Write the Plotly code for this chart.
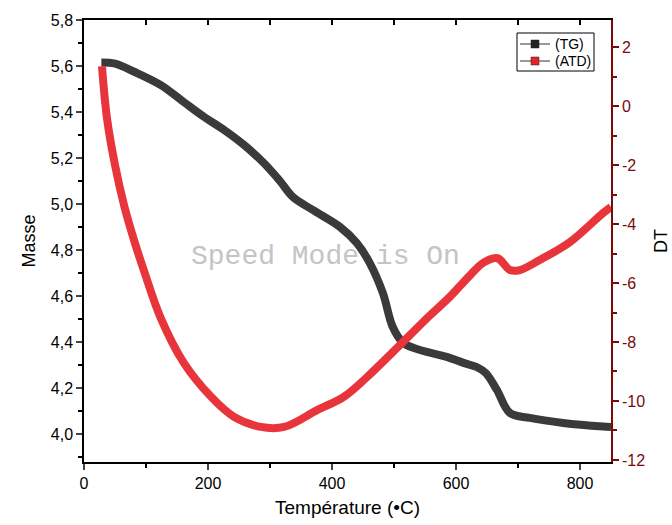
import plotly.graph_objects as go

# TG data (left axis, Masse)
tg_temp = [28, 50, 81, 124, 161, 194, 226, 258, 290, 316, 337, 369, 413, 440, 461, 482, 498, 515, 542, 585, 611, 634, 648, 666, 687, 719, 773, 837, 850]
tg_mass = [5.615, 5.61, 5.575, 5.517, 5.443, 5.378, 5.322, 5.257, 5.178, 5.10, 5.03, 4.974, 4.90, 4.83, 4.743, 4.613, 4.465, 4.396, 4.365, 4.335, 4.31, 4.29, 4.265, 4.191, 4.091, 4.07, 4.048, 4.032, 4.03]

# ATD data (right axis, DT)
atd_temp = [29, 37, 50, 65, 80, 97, 124, 161, 205, 242, 285, 323, 376, 419, 456, 505, 558, 590, 623, 645, 667, 687, 703, 735, 784, 837, 850]
atd_dt = [1.35, -0.4, -2.0, -3.4, -4.5, -5.6, -7.2, -8.71, -9.86, -10.54, -10.88, -10.88, -10.31, -9.86, -9.2, -8.2, -7.1, -6.47, -5.73, -5.3, -5.16, -5.56, -5.56, -5.22, -4.61, -3.63, -3.42]

series_names = ["(TG)", "(ATD)"]
x_ticks = [0, 200, 400, 600, 800]
left_ticks = [4.0, 4.2, 4.4, 4.6, 4.8, 5.0, 5.2, 5.4, 5.6, 5.8]
left_labels = [f"{v:.1f}".replace(".", ",") for v in left_ticks]
right_ticks = [-12, -10, -8, -6, -4, -2, 0, 2]
right_labels = [str(v) for v in right_ticks]

BLACK = "#3a3a3a"
RED = "#e8353b"
DARKRED = "#7b0a0a"
FONT = "Liberation Sans, Arial, sans-serif"

fig = go.Figure()
fig.add_trace(go.Scatter(x=tg_temp, y=tg_mass, mode="lines", name=series_names[0],
                         line=dict(color=BLACK, width=8, shape="spline"), showlegend=False, yaxis="y"))
fig.add_trace(go.Scatter(x=atd_temp, y=atd_dt, mode="lines", name=series_names[1],
                         line=dict(color=RED, width=8, shape="spline"), showlegend=False, yaxis="y2"))
# invisible trace for top axis
fig.add_trace(go.Scatter(x=[0], y=[5], xaxis="x2", yaxis="y", mode="markers",
                         marker=dict(opacity=0), showlegend=False, hoverinfo="skip"))

fig.update_layout(
    width=672, height=525,
    margin=dict(l=84, r=61, t=20, b=63, autoexpand=False),
    paper_bgcolor="white", plot_bgcolor="white",
    font=dict(family=FONT, size=16, color="black"),
    xaxis=dict(range=[0, 850], tickvals=x_ticks, ticks="outside", ticklen=6, tickwidth=1.5, automargin=False,
               showline=True, linecolor="black", linewidth=1.5, showgrid=False, zeroline=False,
               minor=dict(dtick=100, tick0=0, ticks="outside", ticklen=4, tickcolor="black", tickwidth=1.5),
               title=dict(text="Température (•C)", font=dict(size=19), standoff=10),
               tickfont=dict(size=16)),
    xaxis2=dict(range=[0, 850], overlaying="x", side="top", anchor="y", dtick=100, tick0=0, automargin=False,
                ticks="inside", ticklen=5, tickwidth=1.5, tickcolor="black", showticklabels=False,
                showline=True, linecolor="black", linewidth=1.5, showgrid=False, zeroline=False),
    yaxis=dict(range=[3.878, 5.8], tickvals=left_ticks, ticktext=left_labels, ticks="outside", ticklen=6,
               tickwidth=1.5, showline=True, linecolor="black", linewidth=1.5, showgrid=False, zeroline=False,
               automargin=False,
               minor=dict(dtick=0.1, tick0=0, ticks="outside", ticklen=4, tickcolor="black", tickwidth=1.5),
               title=dict(text="Masse", font=dict(size=18), standoff=10),
               tickfont=dict(size=16)),
    yaxis2=dict(range=[-12.07, 2.92], overlaying="y", side="right", anchor="x", tickvals=right_ticks,
                ticktext=right_labels,
                ticks="outside", ticklen=6, tickwidth=1.5, tickcolor=DARKRED, automargin=False,
                showline=True, linecolor=DARKRED, linewidth=1.5, showgrid=False, zeroline=False,
                minor=dict(dtick=2, tick0=-11, ticks="outside", ticklen=4, tickcolor=DARKRED, tickwidth=1.5),
                tickfont=dict(size=16, color=DARKRED),
                title=dict(text="DT", font=dict(size=18, color="black"), standoff=10)),
    showlegend=False,
)

# Manual legend box (Origin style)
W, H, L, T = 527.0, 442.0, 84.0, 20.0
def px(xp):
    return (xp - L) / W
def py(yp):
    return 1 - (yp - T) / H

fig.add_shape(type="rect", xref="paper", yref="paper", x0=px(517), x1=px(594), y0=py(71), y1=py(33),
              line=dict(color="black", width=1), fillcolor="white", layer="above")
legend_colors = ["#222222", "#e8202a"]
row_y = [44, 61]
for name, col, ry in zip(series_names, legend_colors, row_y):
    fig.add_shape(type="line", xref="paper", yref="paper", x0=px(520), x1=px(550), y0=py(ry), y1=py(ry),
                  line=dict(color="#333333", width=1), layer="above")
    fig.add_shape(type="rect", xref="paper", yref="paper", x0=px(531), x1=px(539), y0=py(ry + 4), y1=py(ry - 4),
                  line=dict(color="#222222", width=0.5), fillcolor=col, layer="above")
    fig.add_annotation(x=px(553), y=py(ry), xref="paper", yref="paper", text=name, showarrow=False,
                       xanchor="left", yanchor="middle", font=dict(size=14, color="black"))

fig.add_annotation(x=0.459, y=0.464, xref="paper", yref="paper", text="Speed Mode is On", showarrow=False,
                   font=dict(family="Liberation Mono, Courier New, monospace", size=28, color="#c4c4c4"))

fig.write_html("out.html")
